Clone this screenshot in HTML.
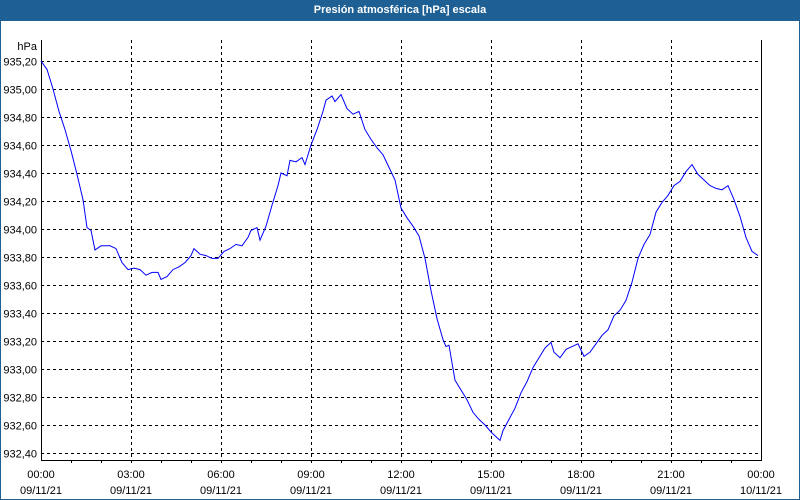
<!DOCTYPE html>
<html><head><meta charset="utf-8"><style>
body{margin:0;width:800px;height:500px;overflow:hidden;background:#fff;font-family:"Liberation Sans",sans-serif}
#wrap{position:absolute;left:0;top:0;width:798px;height:498px;border:1px solid #1e6094;background:#fff}
#title{position:absolute;left:0;top:0;width:800px;height:21px;background:#1e6094;color:#fff;font-weight:bold;font-size:11px;line-height:21px;text-align:center}
</style></head><body>
<div id="wrap"></div>
<div id="title">Presión atmosférica [hPa] escala</div>
<svg id="chart" width="800" height="500" style="position:absolute;left:0;top:0"></svg>
<script>
const minutes=[0,12,24,36,48,60,72,84,92,100,108,120,138,150,162,174,186,198,210,222,234,240,252,264,276,288,300,306,318,330,342,354,366,378,390,402,414,420,432,438,450,462,474,480,492,498,510,522,528,540,552,564,570,582,588,600,612,624,636,648,660,672,684,696,708,720,732,744,756,768,780,792,804,810,816,828,840,852,864,876,888,900,912,918,924,936,948,960,972,984,996,1008,1020,1026,1038,1050,1062,1074,1086,1098,1110,1122,1134,1146,1158,1170,1182,1194,1206,1218,1230,1242,1254,1266,1278,1290,1302,1314,1326,1338,1350,1362,1374,1386,1398,1410,1422,1434];
const pressure=[935.20,935.14,935.00,934.84,934.71,934.56,934.39,934.21,934.01,933.99,933.85,933.88,933.88,933.86,933.76,933.71,933.72,933.71,933.67,933.69,933.69,933.64,933.66,933.71,933.73,933.76,933.81,933.86,933.82,933.81,933.79,933.79,933.84,933.86,933.89,933.88,933.94,933.99,934.01,933.92,934.02,934.17,934.31,934.40,934.38,934.49,934.48,934.51,934.46,934.60,934.71,934.84,934.92,934.95,934.91,934.96,934.86,934.82,934.84,934.71,934.64,934.58,934.53,934.44,934.35,934.15,934.08,934.02,933.95,933.79,933.56,933.36,933.21,933.16,933.17,932.92,932.85,932.78,932.69,932.64,932.60,932.55,932.51,932.49,932.56,932.64,932.72,932.83,932.91,933.01,933.08,933.15,933.19,933.12,933.08,933.14,933.16,933.18,933.09,933.12,933.18,933.24,933.28,933.38,933.42,933.49,933.62,933.79,933.89,933.96,934.12,934.19,934.24,934.31,934.34,934.41,934.46,934.39,934.35,934.31,934.29,934.28,934.31,934.21,934.09,933.94,933.84,933.81];
const yTicks=[935.20,935.00,934.80,934.60,934.40,934.20,934.00,933.80,933.60,933.40,933.20,933.00,932.80,932.60,932.40];
const xTickTimes=["00:00","03:00","06:00","09:00","12:00","15:00","18:00","21:00","00:00"];
const xTickDates=["09/11/21","09/11/21","09/11/21","09/11/21","09/11/21","09/11/21","09/11/21","09/11/21","10/11/21"];
const L=41,R=761,T=40,B=460;
const xs=m=>L+m*(R-L)/1440;
const ys=v=>61+(935.2-v)*140;
const svg=document.getElementById('chart');
const NS='http://www.w3.org/2000/svg';
function mk(t,a,txt){const e=document.createElementNS(NS,t);for(const k in a)e.setAttribute(k,a[k]);if(txt!==undefined)e.textContent=txt;svg.appendChild(e);return e;}
yTicks.forEach((v,i)=>{const y=Math.round(ys(v))+0.5;
 const g=mk('line',{x1:L,x2:R,y1:y,y2:y,stroke:'#000','stroke-dasharray':'3,3'});
 
 const t=mk('text',{x:37,y:y+4,'text-anchor':'end','font-size':'11',fill:'#000'},v.toFixed(2).replace('.',','));
 });
const ut=mk('text',{x:37,y:50,'text-anchor':'end','font-size':'11'},'hPa');

for(let h=1;h<24;h++){const x=Math.round(xs(h*60))+0.5;
 if(h%3==0){const g=mk('line',{x1:x,x2:x,y1:T,y2:B,stroke:'#000','stroke-dasharray':'3,3'});
  }
 const tk=mk('line',{x1:x,x2:x,y1:B,y2:B+3,stroke:'#000'});
 }
xTickTimes.forEach((s,i)=>{const x=xs(i*180);
 const a=mk('text',{x:x,y:478,'text-anchor':'middle','font-size':'11'},s);
 
 const b=mk('text',{x:x,y:494,'text-anchor':'middle','font-size':'11'},xTickDates[i]);
 });
const fr=mk('path',{d:`M${L+0.5},${T}V${B+0.5}H${R+0.5}V${T}`,fill:'none',stroke:'#000'});

const n=Math.min(minutes.length,pressure.length);
let d='';for(let i=0;i<n;i++)d+=(i?'L':'M')+xs(minutes[i]).toFixed(1)+','+ys(pressure[i]).toFixed(1);
const ln=mk('path',{d:d,fill:'none',stroke:'#0000ff','stroke-width':'1'});

</script>
</body></html>
